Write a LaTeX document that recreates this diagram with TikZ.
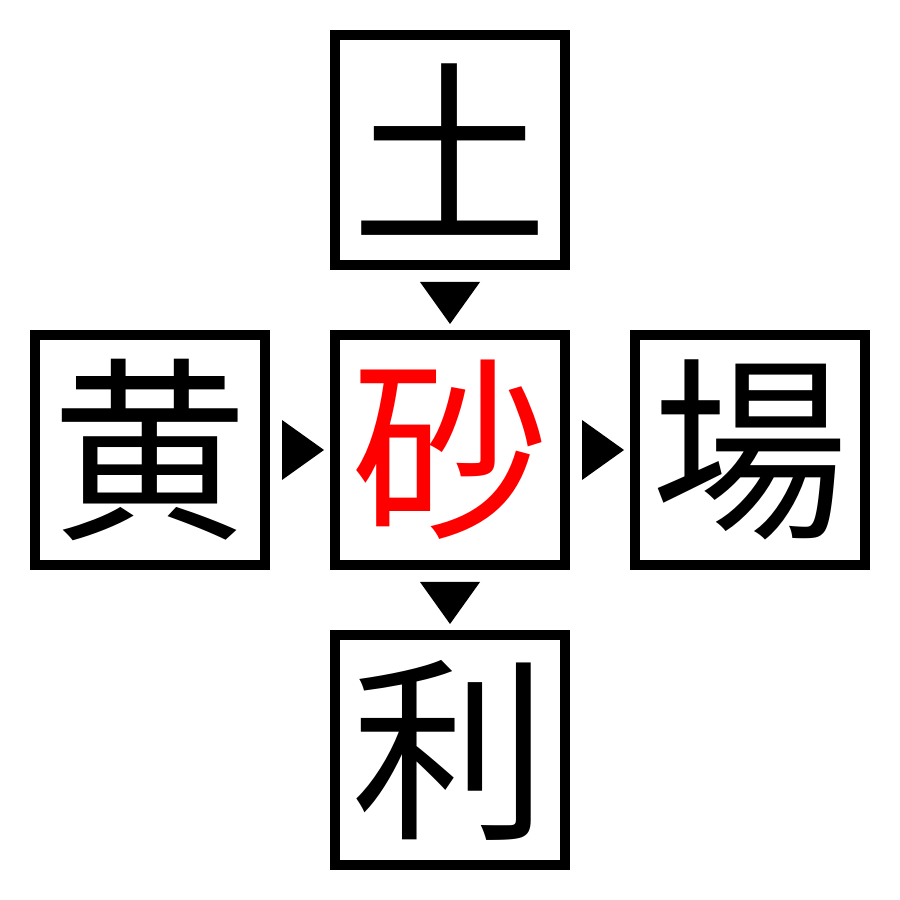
\documentclass[tikz,border=0pt]{standalone}
\usepackage{fontspec}
\newfontfamily\cjk{Noto Sans CJK JP}
\usetikzlibrary{calc}

\begin{document}
\begin{tikzpicture}
\useasboundingbox (0,0) rectangle (9,9);
\begin{scope}[every node/.style={rectangle,draw,line width=0.1cm,minimum size=2.3cm,inner sep=0pt,font=\cjk\fontsize{56}{56}\selectfont}]
    \node (top) at (4.5,7.5) {土};
    \node (mid)[text=red] at (4.5,4.5) {砂};
    \node (left) at (1.5,4.5) {黄};
    \node (right) at (7.5,4.5) {場};
    \node (bot) at (4.5,1.5) {利};
\end{scope}

% markers between the boxes
\fill ($(top.south)!0.5!(mid.north)$) ++(-0.3,0.18) -- ++(0.6,0) -- ++(-0.3,-0.42) -- cycle;
\fill ($(mid.south)!0.5!(bot.north)$) ++(-0.3,0.18) -- ++(0.6,0) -- ++(-0.3,-0.42) -- cycle;
\fill ($(left.east)!0.5!(mid.west)$) ++(-0.18,0.3) -- ++(0,-0.6) -- ++(0.42,0.3) -- cycle;
\fill ($(mid.east)!0.5!(right.west)$) ++(-0.18,0.3) -- ++(0,-0.6) -- ++(0.42,0.3) -- cycle;
\end{tikzpicture}
\end{document}
